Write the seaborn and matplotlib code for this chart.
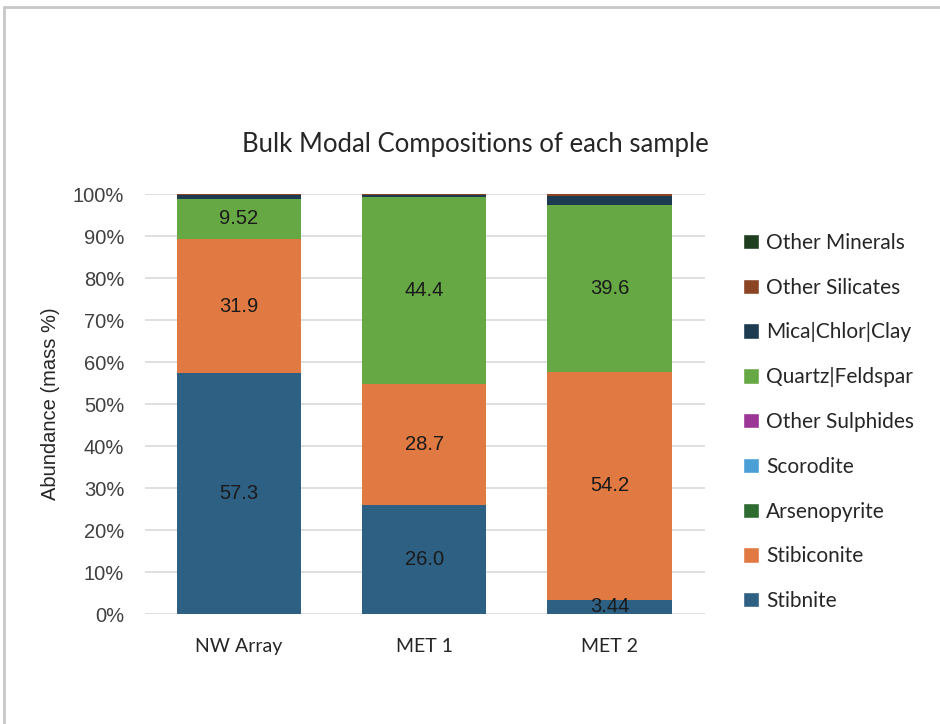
import numpy as np
import pandas as pd
import seaborn as sns
import matplotlib.pyplot as plt
from matplotlib.lines import Line2D
from matplotlib.patches import Patch
from matplotlib.ticker import PercentFormatter

# sample names and minerals (bottom to top of the stack)
samples = ['NW Array', 'MET 1', 'MET 2']
minerals = ['Stibnite', 'Stibiconite', 'Arsenopyrite', 'Scorodite', 'Other Sulphides',
            'Quartz|Feldspar', 'Mica|Chlor|Clay', 'Other Silicates', 'Other Minerals']

# mass % per sample
stibnite = [57.3, 26.0, 3.44]
stibiconite = [31.9, 28.7, 54.2]
arsenopyrite = [0.05, 0.05, 0.03]
scorodite = [0.02, 0.02, 0.02]
other_sulphides = [0.03, 0.03, 0.03]
quartz_feldspar = [9.52, 44.4, 39.6]
mica_chlor_clay = [1.0, 0.65, 2.3]
other_silicates = [0.1, 0.1, 0.3]
other_minerals = [0.08, 0.05, 0.08]

# which series get a data label
labelled = ['Stibnite', 'Stibiconite', 'Quartz|Feldspar']

colors = ['#2E6084', '#E07A42', '#2E6B30', '#4A9FD6', '#9B3596',
          '#66A844', '#1C3A50', '#8B4525', '#1F3D1F']

values = [stibnite, stibiconite, arsenopyrite, scorodite, other_sulphides,
          quartz_feldspar, mica_chlor_clay, other_silicates, other_minerals]
df = pd.DataFrame(np.array(values).T, index=samples, columns=minerals)
df = df.div(df.sum(axis=1), axis=0) * 100

sns.set_style('white')
plt.rcParams['font.family'] = ['Liberation Sans', 'DejaVu Sans']

fig = plt.figure(figsize=(9.4, 7.24), dpi=100)
ax = fig.add_axes([0.1543, 0.1519, 0.5957, 0.5801])

bottom = np.zeros(len(samples))
for i, m in enumerate(minerals):
    sns.barplot(x=samples, y=df[m].values, bottom=bottom, color=colors[i],
                width=0.67, ax=ax, saturation=1, linewidth=0, zorder=3)
    if m in labelled:
        for j in range(len(samples)):
            v = values[i][j]
            txt = '%.3g' % v if v < 10 else '%.1f' % v
            ax.text(j, bottom[j] + df[m].values[j] / 2, txt,
                    ha='center', va='center', fontsize=14.5, color='#1a1a1a', zorder=5)
    bottom = bottom + df[m].values

ax.set_ylim(0, 100)
ax.set_xlim(-0.505, 2.515)
ax.yaxis.set_major_locator(plt.MultipleLocator(10))
ax.yaxis.set_major_formatter(PercentFormatter(decimals=0))
ax.yaxis.grid(True, color='#d9d9d9', linewidth=1.2, zorder=0)
ax.set_axisbelow(True)
for s in ax.spines.values():
    s.set_visible(False)
ax.tick_params(axis='both', length=0)
ax.tick_params(axis='y', labelsize=14.5, labelcolor='#404040', pad=15)
for label in ax.get_xticklabels():
    label.set_fontfamily('Lato')
    label.set_fontsize(14)
    label.set_color('#262626')
ax.tick_params(axis='x', pad=17)
ax.set_ylabel('Abundance (mass %)', fontsize=14.5, color='#262626', labelpad=9)

fig.text(0.506, 0.8, 'Bulk Modal Compositions of each sample', ha='center', va='center',
         fontsize=18.5, family='Lato', color='#262626')

handles = [Patch(facecolor=colors[i], label=minerals[i]) for i in range(len(minerals))][::-1]
leg = fig.legend(handles=handles, loc='upper left', bbox_to_anchor=(0.782, 0.69),
                 frameon=False, prop={'family': 'Lato', 'size': 15}, handlelength=0.75,
                 handleheight=0.75, handletextpad=0.35, labelspacing=1.19, borderaxespad=0)
for t in leg.get_texts():
    t.set_color('#262626')

# chart area border (top and left edges only visible)
fig.add_artist(Line2D([4 / 940, 1], [1 - 7 / 724, 1 - 7 / 724], color='#c8c8c8', linewidth=2))
fig.add_artist(Line2D([4 / 940, 4 / 940], [0, 1 - 7 / 724], color='#c8c8c8', linewidth=2))

plt.savefig('out.png', dpi=100)
plt.close()
